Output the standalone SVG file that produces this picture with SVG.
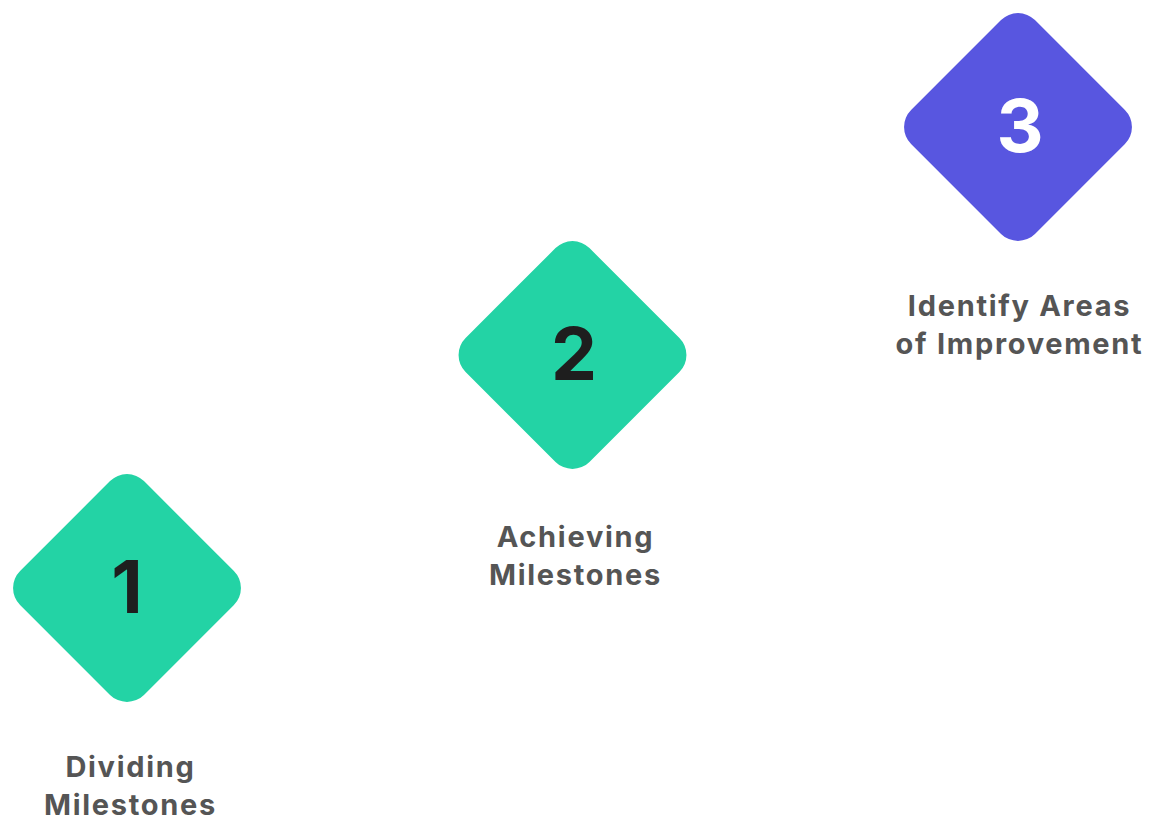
<svg xmlns="http://www.w3.org/2000/svg" width="1160" height="835" viewBox="0 0 1160 835">
<style>
.d{stroke:none}
.g{fill:#23D3A5}
.p{fill:#5856E0}
.num{font-family:Inter,"Liberation Sans",sans-serif;font-weight:700;font-size:73px;text-anchor:middle}
.lbl{font-family:Inter,"Liberation Sans",sans-serif;font-weight:700;font-size:29px;letter-spacing:1.7px;fill:#555555;text-anchor:middle}
</style>
<rect width="1160" height="835" fill="#ffffff"/>
<g id="connectors"></g>
<g id="node1">
<rect class="d g" x="-87.6" y="-87.6" width="175.2" height="175.2" rx="24" transform="translate(127,588) rotate(45)"/>
<text class="num" x="127" y="613" fill="#1E1E1E">1</text>
<text class="lbl" x="130.5" y="777">Dividing</text>
<text class="lbl" x="130.5" y="815">Milestones</text>
</g>
<g id="node2">
<rect class="d g" x="-87.6" y="-87.6" width="175.2" height="175.2" rx="24" transform="translate(572.5,355) rotate(45)"/>
<text class="num" x="574" y="380" fill="#1E1E1E">2</text>
<text class="lbl" x="575.5" y="547">Achieving</text>
<text class="lbl" x="575.5" y="585">Milestones</text>
</g>
<g id="node3">
<rect class="d p" x="-87.6" y="-87.6" width="175.2" height="175.2" rx="24" transform="translate(1018,127) rotate(45)"/>
<text class="num" x="1020" y="152" fill="#ffffff">3</text>
<text class="lbl" x="1019.5" y="316">Identify Areas</text>
<text class="lbl" x="1019.5" y="354">of Improvement</text>
</g>
</svg>
